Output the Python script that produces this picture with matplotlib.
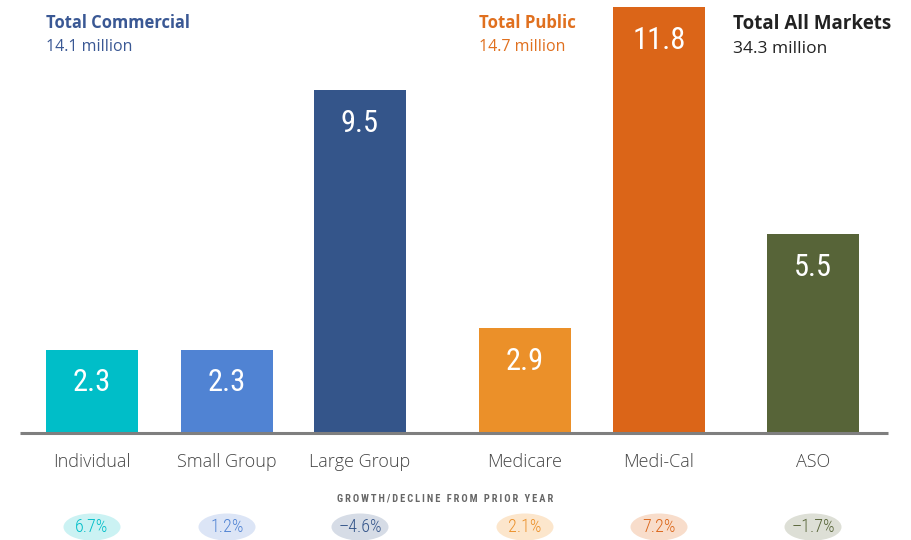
import matplotlib
matplotlib.use("Agg")
import matplotlib.pyplot as plt
from matplotlib.patches import Ellipse

categories = ["Individual", "Small Group", "Large Group", "Medicare", "Medi-Cal", "ASO"]
values = [2.3, 2.3, 9.5, 2.9, 11.8, 5.5]
growth_labels = ["6.7%", "1.2%", "\u20134.6%", "2.1%", "7.2%", "\u20131.7%"]
value_labels = ["2.3", "2.3", "9.5", "2.9", "11.8", "5.5"]
group_titles = ["Total Commercial", "Total Public", "Total All Markets"]
group_totals = ["14.1 million", "14.7 million", "34.3 million"]
growth_header = "GROWTH/DECLINE FROM PRIOR YEAR"

# layout / style
W, H = 911, 540
centers = [92, 227, 360, 525, 659, 813]
bar_w = 92
px_per_unit = 36.1
base_px = 433
bar_colors = ["#00BEC8", "#5083D3", "#34558A", "#EB9029", "#DB6518", "#576438"]
pill_colors = ["#CBF2F3", "#DCE5F6", "#D6DCE6", "#FCE6CC", "#F8DDCB", "#DDDFD6"]

cond = "Roboto Condensed"
main = "Open Sans"

fig = plt.figure(figsize=(W / 100, H / 100), dpi=100)
ax = fig.add_axes([0, 0, 1, 1])
ax.set_xlim(0, W)
ax.set_ylim(-(H - base_px) / px_per_unit, base_px / px_per_unit)
ax.axis("off")

ax.bar(centers, values, width=bar_w, color=bar_colors, zorder=2)
ax.plot([20, 888], [0, 0], color="#7f7f7f", lw=2.2, zorder=3, solid_capstyle="butt")

def ypx(p):
    return (base_px - p) / px_per_unit

for c, v, lab in zip(centers, values, value_labels):
    ax.text(c, v - 33 / px_per_unit, lab, ha="center", va="center", color="white",
            fontsize=22, family=cond)

for c, cat in zip(centers, categories):
    ax.text(c, ypx(462), cat, ha="center", va="center", color="#444444",
            fontsize=13, family=main, fontweight=300)

spaced = "\u2009".join(growth_header)
ax.text(445, ypx(499), spaced, ha="center", va="center", color="#666666",
        fontsize=7.5, family=cond, fontweight="bold")

for c, g, pc, tc in zip(centers, growth_labels, pill_colors, bar_colors):
    e = Ellipse((c, ypx(527)), 57, 27 / px_per_unit, facecolor=pc, edgecolor="none", zorder=2)
    ax.add_patch(e)
    ax.text(c, ypx(527), g, ha="center", va="center", color=tc, fontsize=13,
            family=cond, fontweight=300, zorder=3)

title_x = [46, 479, 733]
title_colors = ["#3A5894", "#E0701F", "#222222"]
title_sizes = [11.9, 12.1, 13.5]
sub_sizes = [11.5, 11.5, 12.5]
title_y = [23, 23, 24]
sub_y = [47, 47, 49]
for x, t, s, col, ts, ss, ty, sy in zip(title_x, group_titles, group_totals, title_colors,
                                        title_sizes, sub_sizes, title_y, sub_y):
    ax.text(x, ypx(ty), t, ha="left", va="center", color=col, fontsize=ts,
            family=main, fontweight="bold")
    ax.text(x, ypx(sy), s, ha="left", va="center", color=col, fontsize=ss, family=main)

fig.savefig("out.png", dpi=100)
